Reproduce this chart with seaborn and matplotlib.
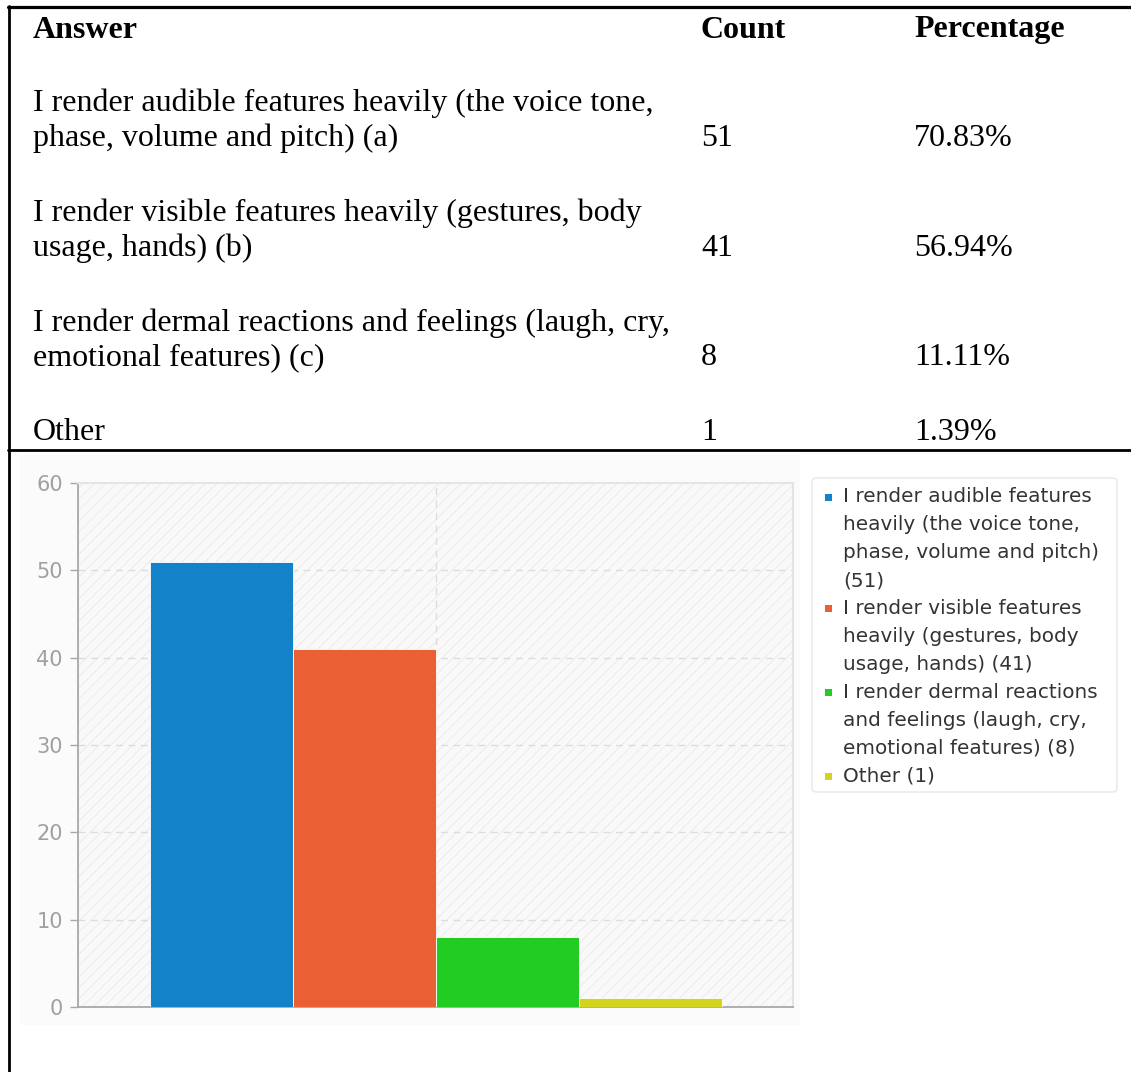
import numpy as np
import pandas as pd
import matplotlib
matplotlib.use("Agg")
import matplotlib.pyplot as plt
from matplotlib.patches import Rectangle, FancyBboxPatch
from matplotlib.lines import Line2D
import seaborn as sns

# ---- data -------------------------------------------------------------
answers = [
    "I render audible features heavily (the voice tone, phase, volume and pitch) (a)",
    "I render visible features heavily (gestures, body usage, hands) (b)",
    "I render dermal reactions and feelings (laugh, cry, emotional features) (c)",
    "Other",
]
table_answer_lines = [
    ["I render audible features heavily (the voice tone,", "phase, volume and pitch) (a)"],
    ["I render visible features heavily (gestures, body", "usage, hands) (b)"],
    ["I render dermal reactions and feelings (laugh, cry,", "emotional features) (c)"],
    ["Other"],
]
counts = [51, 41, 8, 1]
percentages = ["70.83%", "56.94%", "11.11%", "1.39%"]
legend_lines = [
    ["I render audible features", "heavily (the voice tone,", "phase, volume and pitch)", "(51)"],
    ["I render visible features", "heavily (gestures, body", "usage, hands) (41)"],
    ["I render dermal reactions", "and feelings (laugh, cry,", "emotional features) (8)"],
    ["Other (1)"],
]
header = ["Answer", "Count", "Percentage"]
yticks = [0, 10, 20, 30, 40, 50, 60]
colors = ["#1482c8", "#e86034", "#22cc22", "#d4d41e"]

# ---- figure -----------------------------------------------------------
W, H = 1131, 1072
sns.set_theme(style="white")
plt.rcParams["font.family"] = ["DejaVu Sans"]
plt.rcParams["hatch.color"] = "#ededed"
plt.rcParams["hatch.linewidth"] = 0.8
fig = plt.figure(figsize=(W / 100, H / 100), dpi=100)
fig.patch.set_facecolor("white")


def fx(px):
    return px / W


def fy(py):
    return 1 - py / H


# table frame lines
fig.add_artist(Line2D([fx(8), fx(W)], [fy(7), fy(7)], color="black", lw=2.3))
fig.add_artist(Line2D([fx(9), fx(9)], [fy(6), fy(H)], color="black", lw=2.0))
fig.add_artist(Line2D([fx(8), fx(W)], [fy(450), fy(450)], color="black", lw=2.0))

serif = ["Liberation Serif", "DejaVu Serif"]
tsize = 23
col_x = [33, 701, 914]
for x, h in zip(col_x, header):
    fig.text(fx(x), fy(30), h, family=serif, fontsize=tsize, weight="bold",
             va="center", ha="left", color="black")

row_y = [103, 213, 323, 432]
for i, lines in enumerate(table_answer_lines):
    for j, ln in enumerate(lines):
        fig.text(fx(col_x[0]), fy(row_y[i] + 35 * j), ln, family=serif,
                 fontsize=tsize, va="center", ha="left", color="black")
    last = row_y[i] + 35 * (len(lines) - 1)
    fig.text(fx(col_x[1]), fy(last), str(counts[i]), family=serif,
             fontsize=tsize, va="center", ha="left", color="black")
    fig.text(fx(col_x[2]), fy(last), percentages[i], family=serif,
             fontsize=tsize, va="center", ha="left", color="black")

# faint chart background
fig.add_artist(Rectangle((fx(20), fy(1025)), fx(800) - fx(20), fy(455) - fy(1025),
                         facecolor="#fbfbfb", edgecolor="none", zorder=0))

# ---- bar chart --------------------------------------------------------
left, right, top, bottom = 78, 793, 483, 1007
ax = fig.add_axes([fx(left), fy(bottom), fx(right) - fx(left), fy(top) - fy(bottom)])
ax.set_facecolor("#f9f9f9")
ax.add_patch(Rectangle((0, 0), 1, 1, transform=ax.transAxes, facecolor="none",
                       edgecolor="#ededed", hatch="///", lw=0, zorder=0))

df = pd.DataFrame({"group": [""] * len(counts), "answer": answers, "count": counts})
sns.barplot(data=df, x="group", y="count", hue="answer", palette=colors,
            width=0.8, gap=0, dodge=True, ax=ax, edgecolor="#ffffff",
            linewidth=0.6, legend=False, saturation=1, zorder=3)

ax.set_xlim(-0.5, 0.5)
ax.set_ylim(0, 60)
ax.set_yticks(yticks)
ax.set_xticks([])
ax.set_xlabel("")
ax.set_ylabel("")
for y in yticks[1:-1]:
    ax.axhline(y, color="#dddddd", lw=1, ls=(0, (5, 4)), zorder=1)
ax.axvline(0, color="#dddddd", lw=1, ls=(0, (5, 4)), zorder=1)

for side in ["top", "right"]:
    ax.spines[side].set_color("#e4e4e4")
    ax.spines[side].set_linewidth(1.5)
for side in ["left", "bottom"]:
    ax.spines[side].set_color("#a8a8a8")
    ax.spines[side].set_linewidth(1.3)
ax.tick_params(axis="y", which="major", length=6, width=1, color="#a8a8a8",
               labelcolor="#a0a0a0", labelsize=15, pad=5, left=True)

# ---- legend -----------------------------------------------------------
fig.add_artist(FancyBboxPatch((fx(812), fy(792)), fx(1117) - fx(812), fy(478) - fy(792),
                              boxstyle="round,pad=0,rounding_size=0.004",
                              facecolor="white", edgecolor="#e8e8e8", lw=1.0, zorder=2))
pitch = 27.9
line_no = 0
for c, lines in zip(colors, legend_lines):
    y0 = 497 + pitch * line_no
    fig.add_artist(Rectangle((fx(825), fy(y0 + 3.5)), fx(7), 7 / H,
                             facecolor=c, edgecolor="none", zorder=3))
    for ln in lines:
        fig.text(fx(843), fy(497 + pitch * line_no), ln, fontsize=14.4, color="#333333",
                 va="center", ha="left", zorder=4)
        line_no += 1

fig.savefig("out.png", dpi=100, facecolor="white")
